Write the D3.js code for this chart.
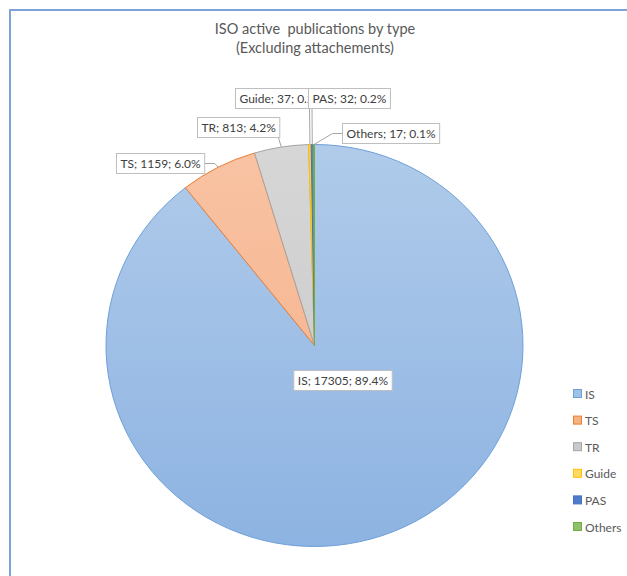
<!DOCTYPE html>
<html>
<head>
<meta charset="utf-8">
<script src="https://cdn.jsdelivr.net/npm/d3@7/dist/d3.min.js"></script>
<style>
  html, body { margin: 0; padding: 0; background: #fff; }
  svg { display: block; font-family: Lato, "Open Sans", sans-serif; }
  .title { white-space: pre; }
</style>
</head>
<body>
<svg id="chart" width="627" height="576"></svg>
<script>
// ---- data ----
const categories = ["IS", "TS", "TR", "Guide", "PAS", "Others"];
const values = [17305, 1159, 813, 37, 32, 17];
const titleLines = ["ISO active  publications by type", "(Excluding attachements)"];

// ---- styles ----
const fills = {
  IS: ["#b0cbea", "#8db3e2"],
  TS: ["#f9c3a3", "#f4ae88"],
  TR: ["#d6d6d6", "#c8c8c8"],
  Guide: ["#ffd050", "#ffc000"],
  PAS: ["#5b84cc", "#4472c4"],
  Others: ["#85bd60", "#70ad47"]
};
const strokes = { IS: "#6fa0d8", TS: "#ed7d31", TR: "#a5a5a5", Guide: "#ffc000", PAS: "#4472c4", Others: "#70ad47" };
const legendFills = { IS: "#9dc3e6", TS: "#f4b183", TR: "#c9c9c9", Guide: "#ffd966", PAS: "#4f7bc8", Others: "#8fc16c" };

const W = 627, H = 576;
const cx = 314.5, cy = 345.5, ry = 201, rx = 208.5;

// label layout: box position (x,y = top-left, or centre), leader attachment; clipW = visible box width
const labelLayout = {
  IS:     { cx: 342.5, cy: 380 },
  TS:     { x: 116, y: 153, attach: "right", elbow: 10 },
  TR:     { x: 197, y: 117, attach: "br" },
  Guide:  { x: 235, y: 88, attach: "bottomAt", ax: 309.5, clipW: 73 },
  PAS:    { x: 308, y: 88, attach: "bottomAt", ax: 312 },
  Others: { x: 342, y: 123, attach: "left", elbow: -10 }
};

const svg = d3.select("#chart");

// border
svg.append("path")
  .attr("d", `M10,${H} L10,10 L${W},10`)
  .attr("fill", "none").attr("stroke", "#7ea2da").attr("stroke-width", 2);

// title
svg.append("text")
  .attr("class", "title")
  .attr("x", 315).attr("y", 34)
  .attr("text-anchor", "middle")
  .attr("fill", "#595959").attr("font-size", 14.5)
  .selectAll("tspan").data(titleLines).join("tspan")
  .attr("x", 315).attr("dy", (d, i) => i === 0 ? 0 : 19)
  .text(d => d);

// gradients
const defs = svg.append("defs");
categories.forEach(c => {
  const g = defs.append("linearGradient").attr("id", "g-" + c)
    .attr("gradientUnits", "userSpaceOnUse")
    .attr("x1", 0).attr("y1", -ry).attr("x2", 0).attr("y2", ry);
  g.append("stop").attr("offset", "0%").attr("stop-color", fills[c][0]);
  g.append("stop").attr("offset", "100%").attr("stop-color", fills[c][1]);
});

const data = categories.map((c, i) => ({ cat: c, value: values[i] }));
const total = d3.sum(values);
const pie = d3.pie().value(d => d.value).sort(null);
const arcs = pie(data);
const arcGen = d3.arc().innerRadius(0).outerRadius(ry);

const pieG = svg.append("g").attr("transform", `translate(${cx},${cy}) scale(${rx / ry},1)`);
pieG.selectAll("path").data(arcs).join("path")
  .attr("d", arcGen)
  .attr("fill", d => `url(#g-${d.data.cat})`)
  .attr("stroke", d => strokes[d.data.cat])
  .attr("stroke-width", 1)
  .attr("vector-effect", "non-scaling-stroke");

// labels
const fmtPct = d3.format(".1f");
const edgePoint = a => {
  const m = (a.startAngle + a.endAngle) / 2;
  return [cx + rx * Math.sin(m), cy - ry * Math.cos(m)];
};

const leaderG = svg.append("g");
const labelG = svg.append("g");
const boxH = 20, padX = 4;

arcs.forEach(a => {
  const c = a.data.cat;
  const L = labelLayout[c];
  const txt = `${c}; ${a.data.value}; ${fmtPct(a.data.value / total * 100)}%`;
  const g = labelG.append("g");
  const rect = g.append("rect").attr("fill", "#fff").attr("stroke", "#bfbfbf").attr("stroke-width", 1);
  const t = g.append("text").attr("fill", "#404040").attr("font-size", 12).text(txt);
  let bw = t.node().getComputedTextLength() + padX * 2;
  let x0, y0;
  if (L.cx !== undefined) { x0 = L.cx - bw / 2; y0 = L.cy - boxH / 2; }
  else { x0 = L.x; y0 = L.y; }
  if (L.clipW) {
    bw = L.clipW;
    const cp = defs.append("clipPath").attr("id", "clip-" + c);
    cp.append("rect").attr("x", x0).attr("y", y0).attr("width", bw).attr("height", boxH + 1);
    t.attr("clip-path", `url(#clip-${c})`);
  }
  rect.attr("x", x0 + 0.5).attr("y", y0 + 0.5).attr("width", bw).attr("height", boxH);
  t.attr("x", x0 + padX + 0.5).attr("y", y0 + 14.5);

  if (L.attach) {
    const [ex, ey] = edgePoint(a);
    let pts;
    const my = y0 + boxH / 2 + 0.5;
    if (L.attach === "right") {
      const sx = x0 + bw + 0.5;
      pts = [[sx, my], [sx + L.elbow, my], [ex, ey]];
    } else if (L.attach === "left") {
      const sx = x0 + 0.5;
      pts = [[sx, my], [sx + L.elbow, my], [ex, ey]];
    } else if (L.attach === "br") {
      pts = [[x0 + bw - 1, y0 + boxH], [ex, ey]];
    } else {
      pts = [[L.ax, y0 + boxH + 0.5], [ex, ey]];
    }
    leaderG.append("path").attr("d", d3.line()(pts))
      .attr("fill", "none").attr("stroke", "#a6a6a6").attr("stroke-width", 1);
  }
});

// legend
const legend = svg.append("g");
const ly = d3.scalePoint().domain(categories).range([394, 527]);
categories.forEach(c => {
  legend.append("rect")
    .attr("x", 573.5).attr("y", ly(c) - 4.5).attr("width", 8).attr("height", 8)
    .attr("fill", legendFills[c]).attr("stroke", strokes[c]).attr("stroke-width", 1);
  legend.append("text")
    .attr("x", 585).attr("y", ly(c) + 4.5)
    .attr("fill", "#595959").attr("font-size", 12)
    .text(c);
});
</script>
</body>
</html>
